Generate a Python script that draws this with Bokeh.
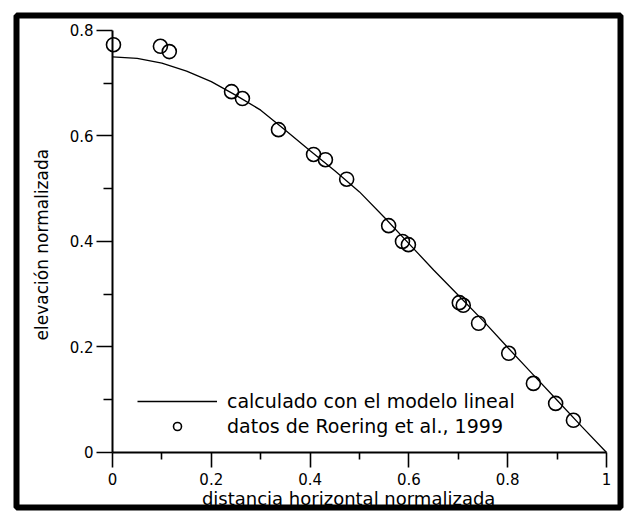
import math
from bokeh.plotting import figure
from bokeh.models import (Range1d, LinearAxis, FixedTicker, Legend, LegendItem, Label)
from bokeh.embed import file_html
from bokeh.resources import INLINE

# ---- data ----
model_x = [0.00, 0.05, 0.10, 0.15, 0.20, 0.25, 0.30, 0.35, 0.40, 0.45, 0.50,
           0.55, 0.60, 0.65, 0.70, 0.75, 0.80, 0.85, 0.90, 0.95, 1.00]
model_y = [0.750, 0.747, 0.738, 0.723, 0.703, 0.677, 0.649, 0.611, 0.572, 0.534, 0.494,
           0.446, 0.396, 0.346, 0.298, 0.250, 0.199, 0.149, 0.099, 0.049, 0.000]

data_x = [0.002, 0.097, 0.115, 0.241, 0.263, 0.336, 0.407, 0.431, 0.474, 0.559,
          0.587, 0.599, 0.702, 0.710, 0.741, 0.802, 0.852, 0.897, 0.933]
data_y = [0.773, 0.770, 0.760, 0.684, 0.671, 0.612, 0.565, 0.555, 0.518, 0.430,
          0.400, 0.394, 0.284, 0.279, 0.245, 0.188, 0.131, 0.093, 0.061]

x_ticks = [0, 0.2, 0.4, 0.6, 0.8, 1]
x_tick_labels = ["0", "0.2", "0.4", "0.6", "0.8", "1"]
x_minor = [0.1, 0.3, 0.5, 0.7, 0.9]
y_ticks = [0, 0.2, 0.4, 0.6, 0.8]
y_tick_labels = ["0", "0.2", "0.4", "0.6", "0.8"]
y_minor = [0.1, 0.3, 0.5, 0.7]

x_label = "distancia horizontal normalizada"
y_label = "elevación normalizada"
legend_model = "calculado con el modelo lineal"
legend_data = "datos de Roering et al., 1999"

FONT = "DejaVu Sans"
W, H = 626, 513

# the plot frame fills the boxed area; axes sit at data 0 inside it
p = figure(width=W, height=H, output_backend="svg", toolbar_location=None,
           x_range=Range1d(-0.1943, 1.0283), y_range=Range1d(-0.1043, 0.8284),
           x_axis_location=None, y_axis_location=None,
           min_border_left=16, min_border_right=6, min_border_top=15,
           min_border_bottom=6)
p.grid.visible = False
p.outline_line_color = "black"
p.outline_line_width = 6
p.background_fill_color = "white"
p.border_fill_color = "white"


def style_axis(ax, ticks, labels, minor):
    ax.ticker = FixedTicker(ticks=ticks, minor_ticks=minor)
    ax.major_label_overrides = {t: l for t, l in zip(ticks, labels)}
    ax.axis_line_width = 2
    ax.axis_line_color = "black"
    ax.major_tick_line_width = 1.6
    ax.minor_tick_line_width = 1.6
    ax.major_tick_line_color = "black"
    ax.minor_tick_line_color = "black"
    ax.major_tick_in = 0
    ax.minor_tick_in = 0
    ax.major_label_text_font = FONT
    ax.major_label_text_font_size = "15px"
    ax.major_label_text_color = "black"


xaxis = LinearAxis(bounds=(0, 1), fixed_location=0)
style_axis(xaxis, x_ticks, x_tick_labels, x_minor)
xaxis.major_tick_out = 15
xaxis.minor_tick_out = 7
xaxis.major_label_standoff = 6
p.add_layout(xaxis, "below")

yaxis = LinearAxis(bounds=(0, 0.8), fixed_location=0)
style_axis(yaxis, y_ticks, y_tick_labels, y_minor)
yaxis.major_tick_out = 16
yaxis.minor_tick_out = 9
yaxis.major_label_standoff = 3
p.add_layout(yaxis, "left")

p.add_layout(Label(x=0.478, y=-0.0864, text=x_label, text_align="center",
                   text_baseline="middle", text_font=FONT,
                   text_font_size="18px", text_color="black"))
p.add_layout(Label(x=-0.1419, y=0.394, text=y_label, angle=math.pi / 2,
                   text_align="center", text_baseline="middle",
                   text_font=FONT, text_font_size="17px", text_color="black"))

r_line = p.line(model_x, model_y, line_color="black", line_width=1.3)
r_pts = p.scatter(data_x, data_y, marker="circle", size=14, fill_color=None,
                  line_color="black", line_width=1.6)

legend = Legend(items=[LegendItem(label=legend_model, renderers=[r_line]),
                       LegendItem(label=legend_data, renderers=[r_pts])],
                location=(121, 70), glyph_width=80, glyph_height=20,
                label_height=20, spacing=3, label_standoff=10,
                padding=0, margin=0, border_line_color=None,
                background_fill_alpha=0, label_text_font=FONT,
                label_text_font_size="19px", label_text_color="black")
p.add_layout(legend)

open("out.html", "w").write(file_html(p, INLINE))
